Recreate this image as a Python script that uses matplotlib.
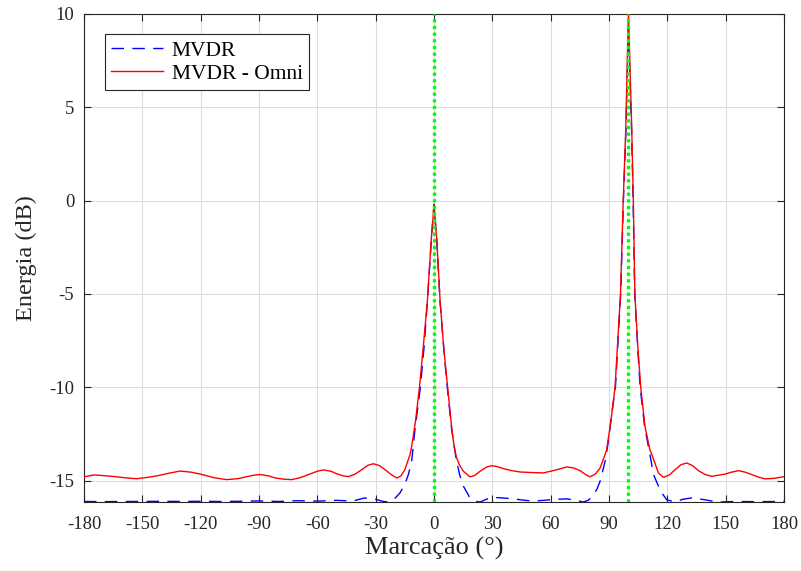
"""MVDR vs MVDR-Omni: energia em função da marcação."""
import matplotlib
matplotlib.use("Agg")
import matplotlib.pyplot as plt

# MVDR - Omni (linha vermelha)
red_x = [-180, -175, -171.8, -167, -163.2, -158, -153, -148, -142.6, -136,
         -130.6, -125, -120.3, -113, -106.6, -101, -96.3, -92, -89.5, -85,
         -81.7, -77, -73.2, -69, -64.6, -60, -56.9, -53, -50.9, -47,
         -44, -40.5, -37.2, -34, -31.2, -28, -25.2, -22, -19.2, -17,
         -15, -12.3, -11.5, -9.5, -7.5, -5.5, -3.4, -1.5, 0, 1.5,
         3.1, 5, 7, 9, 10.3, 11.5, 13, 15.1, 18.5, 21,
         23.7, 27, 29.7, 32.5, 35.7, 40, 44.3, 50, 56.3, 62,
         68.3, 72, 75.1, 78, 80.2, 83, 85.4, 88, 88.8, 91,
         93.1, 95.9, 97.3, 98.6, 99.5, 100, 100.5, 101.7, 102.5, 103.3,
         104.8, 106.3, 108.5, 111, 112, 115.4, 118, 121, 124, 127,
         130, 133, 136, 139.5, 142.9, 146, 149.8, 153, 156.6, 160,
         163.4, 167, 170.3, 175, 180]
red_y = [-14.8, -14.7, -14.72, -14.76, -14.8, -14.86, -14.9, -14.84, -14.75, -14.6,
         -14.49, -14.55, -14.65, -14.85, -14.95, -14.9, -14.79, -14.7, -14.68, -14.75,
         -14.86, -14.93, -14.95, -14.85, -14.68, -14.5, -14.43, -14.5, -14.6, -14.74,
         -14.79, -14.65, -14.42, -14.18, -14.1, -14.2, -14.42, -14.68, -14.86, -14.75,
         -14.42, -13.6, -13.16, -11.8, -10, -7.8, -5.35, -2.2, -0.2, -2.2,
         -5.35, -7.9, -10, -12.1, -13.16, -13.75, -14.15, -14.5, -14.8, -14.72,
         -14.5, -14.28, -14.2, -14.25, -14.36, -14.47, -14.54, -14.57, -14.59, -14.45,
         -14.27, -14.33, -14.47, -14.68, -14.8, -14.65, -14.33, -13.6, -13.34, -11.8,
         -10, -5, 0, 3.8, 8, 10, 8.2, 3.8, 0, -5,
         -7.8, -10, -12.1, -13.34, -13.6, -14.59, -14.83, -14.7, -14.42, -14.15,
         -14.06, -14.2, -14.47, -14.68, -14.77, -14.72, -14.65, -14.55, -14.47, -14.55,
         -14.68, -14.82, -14.91, -14.88, -14.79]

# MVDR (linha azul tracejada)
blue_x = [-180, -170, -160, -150, -140, -130, -120, -110, -100, -90,
          -80, -70, -60, -50, -42, -35.5, -30.3, -26, -23.5, -20.5,
          -17.5, -15, -13.2, -11.5, -9.8, -7, -5, -3.4, -1.5, 0,
          1.5, 3.1, 5, 6.8, 9.1, 11.3, 13.2, 15.1, 18.5, 21,
          23.7, 27, 30.5, 35, 40.8, 46, 51, 55, 59.7, 64,
          68.3, 72.5, 76.8, 79.5, 82, 83.7, 85.4, 88, 89.5, 91.3,
          93.3, 96, 97.4, 98.7, 99.6, 100, 100.4, 101.6, 102.4, 103.2,
          104.7, 106, 108.3, 110.5, 112.9, 115, 117.1, 119.7, 124, 128,
          132.5, 136, 139.4, 143, 146.2, 155, 165, 180]
blue_y = [-16.12, -16.13, -16.12, -16.12, -16.11, -16.12, -16.11, -16.12, -16.11, -16.09,
          -16.12, -16.08, -16.1, -16.06, -16.1, -15.93, -16.0, -16.12, -16.15, -16.0,
          -15.66, -15.2, -14.68, -13.97, -12.27, -10, -7.7, -5.4, -2.3, -0.2,
          -2.3, -5.4, -7.9, -10, -12.27, -13.8, -14.7, -15.3, -15.93, -16.1,
          -16.15, -16.0, -15.9, -15.93, -15.98, -16.05, -16.1, -16.07, -16.03, -16.0,
          -15.98, -16.05, -16.15, -16.05, -15.75, -15.48, -15.04, -13.97, -13.0, -11.5,
          -10, -5, 0, 3.8, 7.8, 9.3, 7.8, 3.8, 0, -5,
          -7.8, -10, -12.1, -13.3, -14.68, -15.2, -15.66, -16.03, -16.15, -16.0,
          -15.93, -15.98, -16.03, -16.1, -16.15, -16.12, -16.13, -16.12]

# direções verdadeiras das fontes
sources = [0, 100]

x_ticks = list(range(-180, 181, 30))
y_ticks = [-15, -10, -5, 0, 5, 10]

plt.rcParams["font.family"] = ["Liberation Serif", "DejaVu Serif"]
plt.rcParams["axes.unicode_minus"] = False

fig = plt.figure(figsize=(8.01, 5.71), dpi=100)
ax = fig.add_axes([0.1049, 0.1208, 0.8739, 0.8547])

ax.plot(blue_x, blue_y, color="blue", lw=1.0, dashes=(9, 6), label="MVDR", zorder=3)
ax.plot(red_x, red_y, color="red", lw=1.0, label="MVDR - Omni", zorder=4)
for s in sources:
    ax.axvline(s, color=(0, 1, 0), lw=2.4, dashes=(1.0, 1.0),
               dash_capstyle="butt", zorder=5)

ax.set_xlim(-180, 180)
ax.set_ylim(-16.15, 10)
ax.set_xticks(x_ticks)
ax.set_yticks(y_ticks)
ax.tick_params(direction="in", top=True, right=True, labelsize=13.5,
               length=5, width=0.8, colors="#262626")
ax.tick_params(axis="x", pad=10)
ax.tick_params(axis="y", pad=7)
ax.grid(True, color="#dddddd", lw=0.8)
ax.set_axisbelow(True)
for sp in ax.spines.values():
    sp.set_color("#262626")
    sp.set_linewidth(0.8)

ax.set_xlabel("Marcação (°)", fontsize=19, color="#262626", labelpad=3)
ax.set_ylabel("Energia (dB)", fontsize=17.5, color="#262626", labelpad=9)

leg = ax.legend(loc="upper left", bbox_to_anchor=(0.03, 0.959), borderaxespad=0,
                fontsize=15.5, fancybox=False, framealpha=1, edgecolor="#262626",
                handlelength=2.4, borderpad=0.3, labelspacing=0.15, handletextpad=0.4)
leg.get_frame().set_linewidth(0.8)

fig.savefig("out.png", dpi=100)
